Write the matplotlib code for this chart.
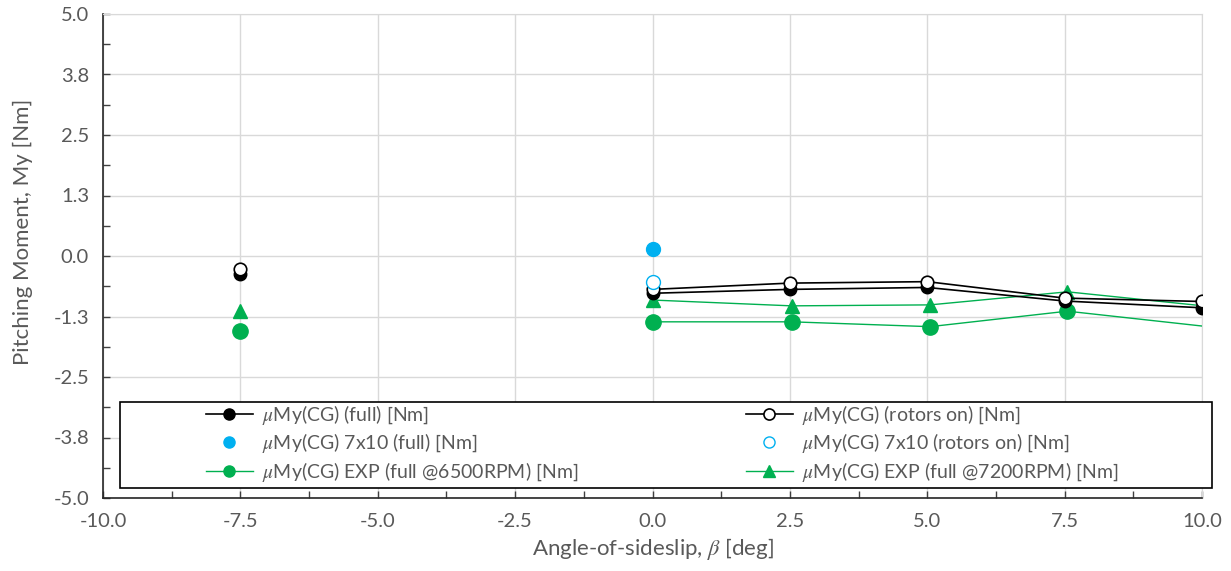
import numpy as np
import matplotlib
matplotlib.use("Agg")
import matplotlib.pyplot as plt
from matplotlib.patches import Rectangle

plt.rcParams['font.family'] = ['Lato', 'DejaVu Sans']
plt.rcParams['mathtext.fontset'] = 'stix'

# Sideslip sweep (deg); NaN keeps the line broken across untested angles
beta = [-7.5, -5.0, -2.5, 0.0, 2.5, 5.0, 7.5, 10.0]
my_full = [-0.37, np.nan, np.nan, -0.77, -0.69, -0.65, -0.93, -1.07]
my_rotors = [-0.27, np.nan, np.nan, -0.69, -0.56, -0.53, -0.87, -0.94]

# 7x10 tunnel points
beta_7x10 = [0.0]
my_7x10_full = [0.15]
my_7x10_rotors = [-0.53]

# Experimental runs (last point lies beyond the plotted range)
beta_exp = [-7.5, -5.0, -2.5, 0.0, 2.53, 5.05, 7.55, 12.5]
my_exp_6500 = [-1.55, np.nan, np.nan, -1.36, -1.36, -1.46, -1.14, -1.76]
my_exp_7200 = [-1.14, np.nan, np.nan, -0.91, -1.03, -1.01, -0.74, -1.32]

x_ticks = [-10.0, -7.5, -5.0, -2.5, 0.0, 2.5, 5.0, 7.5, 10.0]
x_ticklabels = ['-10.0', '-7.5', '-5.0', '-2.5', '0.0', '2.5', '5.0', '7.5', '10.0']
y_ticks = [-5.0, -3.75, -2.5, -1.25, 0.0, 1.25, 2.5, 3.75, 5.0]
y_ticklabels = ['-5.0', '-3.8', '-2.5', '-1.3', '0.0', '1.3', '2.5', '3.8', '5.0']

GRAY = '#595959'
GRID = '#d9d9d9'
BLUE = '#00b0f0'
GREEN = '#00b050'

W, H = 1231, 571
fig = plt.figure(figsize=(W / 100, H / 100), dpi=100)
ax = fig.add_axes([103 / W, 1 - 498 / H, (1202 - 103) / W, (498 - 14) / H])

ax.set_xlim(-10, 10)
ax.set_ylim(-5, 5)
ax.set_xticks(x_ticks)
ax.set_xticklabels(x_ticklabels)
ax.set_yticks(y_ticks)
ax.set_yticklabels(y_ticklabels)
ax.set_xticks(np.arange(-10, 10.01, 1.25), minor=True)
ax.set_yticks(np.arange(-5, 5.01, 0.625), minor=True)
ax.grid(True, which='major', color=GRID, linewidth=1.0, zorder=0)
ax.set_axisbelow(True)
ax.tick_params(which='both', direction='in', length=5, width=1, color='#404040',
               labelcolor=GRAY, labelsize=14.5)
ax.tick_params(axis='x', which='major', pad=11)
ax.tick_params(axis='y', which='major', pad=10)
for side in ('top', 'right'):
    ax.spines[side].set_color(GRID)
for side in ('left', 'bottom'):
    ax.spines[side].set_color('#262626')
    ax.spines[side].set_linewidth(1.2)

h1, = ax.plot(beta, my_full, color='black', lw=1.2, marker='o', ms=9,
              mfc='black', mec='black', zorder=4,
              label=r'$\mu$My(CG) (full) [Nm]')
h2, = ax.plot(beta, my_rotors, color='black', lw=1.2, marker='o', ms=9,
              mfc='white', mec='black', mew=1.2, zorder=5,
              label=r'$\mu$My(CG) (rotors on) [Nm]')
h3, = ax.plot(beta_7x10, my_7x10_full, ls='none', marker='o', ms=10,
              mfc=BLUE, mec=BLUE, zorder=5,
              label=r'$\mu$My(CG) 7x10 (full) [Nm]')
h4, = ax.plot(beta_7x10, my_7x10_rotors, ls='none', marker='o', ms=10,
              mfc='white', mec=BLUE, mew=1.0, zorder=5,
              label=r'$\mu$My(CG) 7x10 (rotors on) [Nm]')
h5, = ax.plot(beta_exp, my_exp_6500, color=GREEN, lw=1.0, marker='o', ms=11,
              mfc=GREEN, mec=GREEN, zorder=3,
              label=r'$\mu$My(CG) EXP (full @6500RPM) [Nm]')
h6, = ax.plot(beta_exp, my_exp_7200, color=GREEN, lw=1.0, marker='^', ms=10,
              mfc=GREEN, mec=GREEN, zorder=3,
              label=r'$\mu$My(CG) EXP (full @7200RPM) [Nm]')

ax.set_xlabel(r'Angle-of-sideslip, $\beta$ [deg]', color=GRAY, fontsize=16, labelpad=4)
ax.set_ylabel('Pitching Moment, My [Nm]', color=GRAY, fontsize=16)
ax.yaxis.set_label_coords(-0.064, 0.55)

# Legend frame spanning the lower part of the plot
frame = Rectangle((120 / W, 1 - 488 / H), (1212 - 120) / W, (488 - 402) / H,
                  transform=fig.transFigure, facecolor='white',
                  edgecolor='black', linewidth=1.2, zorder=10)
fig.patches.append(frame)

leg_kw = dict(frameon=False, fontsize=14, labelcolor=GRAY, handlelength=2.4,
              handletextpad=0.5, labelspacing=0.22, borderpad=0.0,
              borderaxespad=0.0, loc='upper left')
leg1 = fig.legend([h1, h3, h5], [h.get_label() for h in (h1, h3, h5)],
                  bbox_to_anchor=(206 / W, 1 - 403 / H), **leg_kw)
leg2 = fig.legend([h2, h4, h6], [h.get_label() for h in (h2, h4, h6)],
                  bbox_to_anchor=(746 / W, 1 - 403 / H), **leg_kw)
for lg in (leg1, leg2):
    lg.set_zorder(11)
    for lh in lg.legend_handles:
        lh.set_markersize(8)

fig.savefig('out.png', dpi=100)
